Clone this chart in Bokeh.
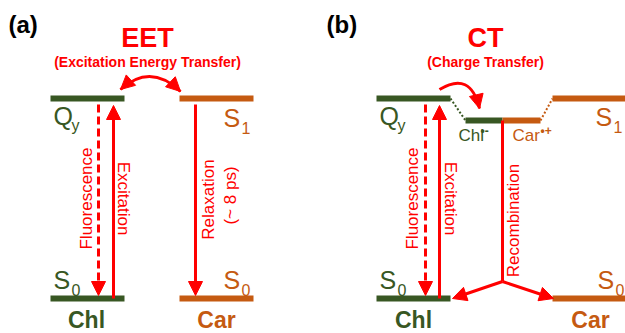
import math
from bokeh.plotting import figure
from bokeh.models import Range1d, Arrow, NormalHead, ColumnDataSource, Label
from bokeh.embed import file_html
from bokeh.resources import INLINE

GREEN = "#385723"
ORANGE = "#C55A11"
RED = "#FF0000"
FONT = "Liberation Sans"

# Relative state energies (ground state = 0, Chl Qy = 1)
E_S0 = 0.0
E_QY = 1.0
E_S1 = 1.0
E_CT = 0.89

level_names = ["Chl S0", "Chl Qy", "Car S0", "Car S1",
               "Chl S0", "Chl Qy", "Chl•-", "Car•+", "Car S0", "Car S1"]
level_energy = [E_S0, E_QY, E_S0, E_S1,
                E_S0, E_QY, E_CT, E_CT, E_S0, E_S1]
level_species = ["Chl", "Chl", "Car", "Car",
                 "Chl", "Chl", "Chl", "Car", "Car", "Car"]

W, H = 625, 333
PX_PER_E = 200.0      # vertical scale: pixels per energy unit
S0_PX = 298.0         # ground state level, pixels from top


def yp(px):
    """Convert a distance from the top edge (px) into energy units."""
    return (S0_PX - px) / PX_PER_E


p = figure(width=W, height=H, x_range=Range1d(0, W),
           y_range=Range1d(yp(H), yp(0)),
           x_axis_type=None, y_axis_type=None,
           toolbar_location=None, output_backend="svg", min_border=0)
p.grid.visible = False
p.outline_line_color = None
p.background_fill_color = "white"
p.border_fill_color = "white"

# horizontal extents of each level bar
level_x0 = [50, 50, 179, 179, 376, 376, 465, 502, 552, 552]
level_x1 = [124, 124, 253, 253, 450, 450, 502, 540, 625, 625]
colors = {"Chl": GREEN, "Car": ORANGE}

src = ColumnDataSource(dict(
    x0=level_x0, x1=level_x1, y=level_energy,
    color=[colors[s] for s in level_species], name=level_names))
p.segment(x0="x0", y0="y", x1="x1", y1="y", color="color",
          line_width=6, line_cap="butt", source=src)

# dotted connectors from the excited states to the CT pair
p.segment(x0=[450], y0=[E_QY], x1=[465], y1=[E_CT], color=GREEN,
          line_width=2, line_dash="2 2")
p.segment(x0=[540], y0=[E_CT], x1=[552], y1=[E_S1], color=ORANGE,
          line_width=2, line_dash="2 2")


def head():
    return NormalHead(size=14, fill_color=RED, line_color=RED, line_width=1)


def arrow(x0, y0, x1, y1, dash="solid", body=True):
    p.add_layout(Arrow(end=head(), x_start=x0, y_start=y0, x_end=x1, y_end=y1,
                       line_color=RED, line_width=3, line_dash=dash,
                       line_alpha=1.0 if body else 0.0))


gap_top = yp(104)
gap_bot = yp(295)

# panel (a): fluorescence, excitation, relaxation
arrow(98, gap_top, 98, gap_bot, dash="8 4")
arrow(113, E_S0, 113, yp(105))
arrow(195, gap_top, 195, gap_bot)

# panel (b): fluorescence, excitation
arrow(425, gap_top, 425, gap_bot, dash="8 4")
arrow(439, E_S0, 439, yp(105))

# recombination: stem then two branches
join_y = yp(281)
p.segment(x0=[502], y0=[E_CT], x1=[502], y1=[join_y], color=RED, line_width=3)
arrow(502, join_y, 452, yp(298))
arrow(502, join_y, 553, yp(298))

# EET double-headed arc
ex0, ey0, ex1, ey1, ecx, ecy = 120, 89, 180, 91, 150, 62
p.quadratic(x0=[ex0], y0=[yp(ey0)], x1=[ex1], y1=[yp(ey1)],
            cx=[ecx], cy=[yp(ecy)], line_color=RED, line_width=3)
arrow(ecx, yp(ecy), ex0, yp(ey0), body=False)
arrow(ecx, yp(ecy), ex1, yp(ey1), body=False)

# CT arc
cx0, cy0, cx1, cy1, ccx, ccy = 439, 89, 479, 108, 470, 70
p.quadratic(x0=[cx0], y0=[yp(cy0)], x1=[cx1], y1=[yp(cy1)],
            cx=[ccx], cy=[yp(ccy)], line_color=RED, line_width=3)
arrow(ccx, yp(ccy), cx1, yp(cy1), body=False)


def label(x, base, text, size, color, bold=False, align="left"):
    """Horizontal text; `base` is the baseline, in px from the top."""
    p.add_layout(Label(x=x, y=yp(base - 0.36 * size), text=text,
                       text_font=FONT, text_font_size=f"{size}px",
                       text_color=color,
                       text_font_style="bold" if bold else "normal",
                       text_align=align, text_baseline="middle"))


def vlabel(x, ymid, text, angle):
    """Rotated process label centred on (x, ymid)."""
    p.add_layout(Label(x=x, y=yp(ymid), text=text, text_font=FONT,
                       text_font_size="17px", text_color=RED,
                       text_align="center", text_baseline="middle",
                       angle=angle))


# panel tags and titles
label(8, 33, "(a)", 24, "black", bold=True)
label(326, 33, "(b)", 24, "black", bold=True)
label(147, 47, "EET", 27, RED, bold=True, align="center")
label(147, 67, "(Excitation Energy Transfer)", 14, RED, bold=True, align="center")
label(485, 47, "CT", 27, RED, bold=True, align="center")
label(485, 67, "(Charge Transfer)", 14, RED, bold=True, align="center")


def state(x, base, letter, sub, color):
    label(x, base, letter, 25, color)
    label(x + 18, base + 7, sub, 16, color)


state(53, 124, "Q", "y", GREEN)
state(53, 288, "S", "0", GREEN)
state(223, 126, "S", "1", ORANGE)
state(223, 288, "S", "0", ORANGE)
state(379, 124, "Q", "y", GREEN)
state(379, 288, "S", "0", GREEN)
state(595, 125, "S", "1", ORANGE)
state(597, 288, "S", "0", ORANGE)

# radical-ion pair
label(458, 141, "Chl", 17, GREEN)
label(480, 135, "•-", 12, GREEN, bold=True)
label(512, 141, "Car", 17, ORANGE)
label(540, 135, "•+", 12, ORANGE, bold=True)

# species names
label(86, 328, "Chl", 23, GREEN, bold=True, align="center")
label(216, 328, "Car", 23, ORANGE, bold=True, align="center")
label(413, 328, "Chl", 23, GREEN, bold=True, align="center")
label(590, 328, "Car", 23, ORANGE, bold=True, align="center")

# process labels along the arrows
up, down = math.pi / 2, -math.pi / 2
vlabel(86, 198, "Fluorescence", up)
vlabel(123, 198, "Excitation", down)
vlabel(208, 199, "Relaxation", up)
vlabel(230, 195, "(~ 8 ps)", up)
vlabel(412, 198, "Fluorescence", up)
vlabel(450, 198, "Excitation", down)
vlabel(513, 220, "Recombination", up)

open("out.html", "w").write(file_html(p, INLINE))
